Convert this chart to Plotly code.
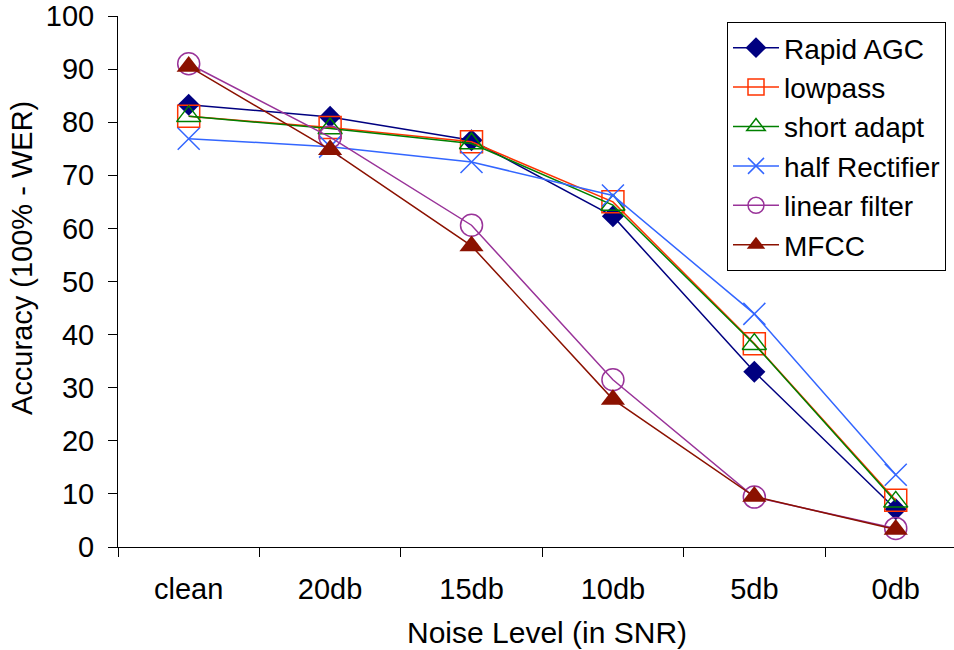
import plotly.graph_objects as go

categories = ["clean", "20db", "15db", "10db", "5db", "0db"]
rapid_agc = [83.3, 81.0, 76.6, 62.3, 33.0, 7.1]
lowpass = [81.1, 79.0, 76.3, 65.0, 38.3, 8.8]
short_adapt = [81.1, 78.8, 76.0, 64.4, 38.2, 8.5]
half_rectifier = [76.9, 75.4, 72.5, 66.2, 43.9, 13.6]
linear_filter = [91.0, 77.2, 60.6, 31.5, 9.4, 3.5]
mfcc = [90.5, 74.8, 56.7, 27.8, 9.5, 3.3]

series = [
    ("Rapid AGC", rapid_agc, "#000080", dict(symbol="diamond", size=17, color="#000080")),
    ("lowpass", lowpass, "#FF3300", dict(symbol="square-open", size=22, color="#FF3300", line=dict(width=1.5))),
    ("short adapt", short_adapt, "#008000", dict(symbol="triangle-up-open", size=21, color="#008000", line=dict(width=1.5))),
    ("half Rectifier", half_rectifier, "#3366FF", dict(symbol="x-thin-open", size=22, color="#3366FF", line=dict(width=1.5, color="#3366FF"))),
    ("linear filter", linear_filter, "#993399", dict(symbol="circle-open", size=22, color="#993399", line=dict(width=1.5))),
    ("MFCC", mfcc, "#8B1100", dict(symbol="triangle-up", size=21, color="#8B1100")),
]

fig = go.Figure()
for name, vals, col, mk in series:
    fig.add_trace(go.Scatter(
        x=categories, y=vals, name=name, mode="lines+markers",
        line=dict(color=col, width=1.5), marker=mk,
    ))

font = "Liberation Sans, Arial, sans-serif"
fig.update_layout(
    width=954, height=650,
    margin=dict(l=118, r=0, t=16, b=103),
    paper_bgcolor="white", plot_bgcolor="white",
    font=dict(family=font, size=29, color="black"),
    showlegend=True,
    legend=dict(
        x=(727 - 118) / 836, y=(547 - 22) / 531, xanchor="left", yanchor="top",
        bordercolor="black", borderwidth=1, bgcolor="white",
        font=dict(size=28, family=font), itemwidth=46,
    ),
    xaxis=dict(
        type="category", range=[-0.5, 5.412], showline=True, linecolor="black", linewidth=1,
        ticks="outside", tickson="boundaries", ticklen=9, tickcolor="black",
        showgrid=False, zeroline=False, ticklabelstandoff=16,
        tickfont=dict(size=29),
    ),
    yaxis=dict(
        range=[0, 100], dtick=10, showline=True, linecolor="black", linewidth=1,
        ticks="outside", ticklen=9, tickcolor="black",
        showgrid=False, zeroline=False, ticklabelstandoff=8,
        tickfont=dict(size=29),
    ),
    annotations=[
        dict(text="Noise Level (in SNR)", xref="paper", yref="paper",
             x=(547 - 118) / 836, y=(547 - 632) / 531, xanchor="center", yanchor="middle",
             showarrow=False, font=dict(size=30, family=font)),
        dict(text="Accuracy (100% - WER)", xref="paper", yref="paper",
             x=(22 - 118) / 836, y=(547 - 258) / 531, xanchor="center", yanchor="middle",
             textangle=-90, showarrow=False, font=dict(size=29, family=font)),
    ],
)

fig.write_html("out.html")
